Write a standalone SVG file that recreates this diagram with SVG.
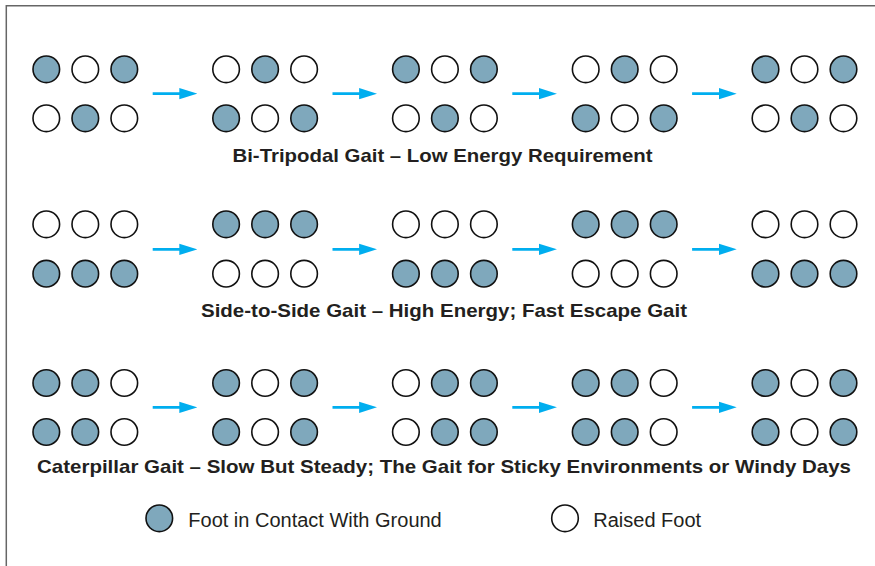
<svg xmlns="http://www.w3.org/2000/svg" width="875" height="566" viewBox="0 0 875 566">
  <defs>
    <style>
      .f { fill: #7fa8bc; stroke: #111; stroke-width: 1.6; }
      .o { fill: #fff; stroke: #111; stroke-width: 1.6; }
      .title { font-family: "Liberation Sans", Arial, sans-serif; font-weight: bold; font-size: 19px; fill: #231f20; text-anchor: middle; }
      .leg { font-family: "Liberation Sans", Arial, sans-serif; font-size: 20px; fill: #231f20; }
      .arr { stroke: #00aeef; stroke-width: 2.7; fill: none; marker-end: url(#ah); }
    </style>
    <marker id="ah" markerUnits="userSpaceOnUse" markerWidth="18" markerHeight="12" viewBox="0 0 17 10.7" refX="6.3" refY="5.35" orient="auto">
      <path d="M0,0 L17,5.35 L0,10.7 z" fill="#00aeef"/>
    </marker>
  </defs>
  <rect width="875" height="566" fill="#fff"/>
  <path d="M6.3,566 L6.3,5.7 L875,5.7" fill="none" stroke="#666" stroke-width="1.5"/>

  <!-- Row 1: Bi-Tripodal -->
  <g id="bt1" transform="translate(46.3,0)">
    <circle class="f" cx="0" cy="69.3" r="13.3"/><circle class="o" cx="39" cy="69.3" r="13.3"/><circle class="f" cx="78" cy="69.3" r="13.3"/>
    <circle class="o" cx="0" cy="118.3" r="13.3"/><circle class="f" cx="39" cy="118.3" r="13.3"/><circle class="o" cx="78" cy="118.3" r="13.3"/>
  </g>
  <g id="bt2" transform="translate(226.1,0)">
    <circle class="o" cx="0" cy="69.3" r="13.3"/><circle class="f" cx="39" cy="69.3" r="13.3"/><circle class="o" cx="78" cy="69.3" r="13.3"/>
    <circle class="f" cx="0" cy="118.3" r="13.3"/><circle class="o" cx="39" cy="118.3" r="13.3"/><circle class="f" cx="78" cy="118.3" r="13.3"/>
  </g>
  <g id="bt3" transform="translate(405.9,0)">
    <circle class="f" cx="0" cy="69.3" r="13.3"/><circle class="o" cx="39" cy="69.3" r="13.3"/><circle class="f" cx="78" cy="69.3" r="13.3"/>
    <circle class="o" cx="0" cy="118.3" r="13.3"/><circle class="f" cx="39" cy="118.3" r="13.3"/><circle class="o" cx="78" cy="118.3" r="13.3"/>
  </g>
  <g id="bt4" transform="translate(585.7,0)">
    <circle class="o" cx="0" cy="69.3" r="13.3"/><circle class="f" cx="39" cy="69.3" r="13.3"/><circle class="o" cx="78" cy="69.3" r="13.3"/>
    <circle class="f" cx="0" cy="118.3" r="13.3"/><circle class="o" cx="39" cy="118.3" r="13.3"/><circle class="f" cx="78" cy="118.3" r="13.3"/>
  </g>
  <g id="bt5" transform="translate(765.5,0)">
    <circle class="f" cx="0" cy="69.3" r="13.3"/><circle class="o" cx="39" cy="69.3" r="13.3"/><circle class="f" cx="78" cy="69.3" r="13.3"/>
    <circle class="o" cx="0" cy="118.3" r="13.3"/><circle class="f" cx="39" cy="118.3" r="13.3"/><circle class="o" cx="78" cy="118.3" r="13.3"/>
  </g>
  <text class="title" x="442.5" y="162.3" textLength="420" lengthAdjust="spacingAndGlyphs">Bi-Tripodal Gait – Low Energy Requirement</text>

  <!-- Row 2: Side-to-Side -->
  <g id="ss1" transform="translate(46.3,0)">
    <circle class="o" cx="0" cy="224.3" r="13.3"/><circle class="o" cx="39" cy="224.3" r="13.3"/><circle class="o" cx="78" cy="224.3" r="13.3"/>
    <circle class="f" cx="0" cy="273.7" r="13.3"/><circle class="f" cx="39" cy="273.7" r="13.3"/><circle class="f" cx="78" cy="273.7" r="13.3"/>
  </g>
  <g id="ss2" transform="translate(226.1,0)">
    <circle class="f" cx="0" cy="224.3" r="13.3"/><circle class="f" cx="39" cy="224.3" r="13.3"/><circle class="f" cx="78" cy="224.3" r="13.3"/>
    <circle class="o" cx="0" cy="273.7" r="13.3"/><circle class="o" cx="39" cy="273.7" r="13.3"/><circle class="o" cx="78" cy="273.7" r="13.3"/>
  </g>
  <g id="ss3" transform="translate(405.9,0)">
    <circle class="o" cx="0" cy="224.3" r="13.3"/><circle class="o" cx="39" cy="224.3" r="13.3"/><circle class="o" cx="78" cy="224.3" r="13.3"/>
    <circle class="f" cx="0" cy="273.7" r="13.3"/><circle class="f" cx="39" cy="273.7" r="13.3"/><circle class="f" cx="78" cy="273.7" r="13.3"/>
  </g>
  <g id="ss4" transform="translate(585.7,0)">
    <circle class="f" cx="0" cy="224.3" r="13.3"/><circle class="f" cx="39" cy="224.3" r="13.3"/><circle class="f" cx="78" cy="224.3" r="13.3"/>
    <circle class="o" cx="0" cy="273.7" r="13.3"/><circle class="o" cx="39" cy="273.7" r="13.3"/><circle class="o" cx="78" cy="273.7" r="13.3"/>
  </g>
  <g id="ss5" transform="translate(765.5,0)">
    <circle class="o" cx="0" cy="224.3" r="13.3"/><circle class="o" cx="39" cy="224.3" r="13.3"/><circle class="o" cx="78" cy="224.3" r="13.3"/>
    <circle class="f" cx="0" cy="273.7" r="13.3"/><circle class="f" cx="39" cy="273.7" r="13.3"/><circle class="f" cx="78" cy="273.7" r="13.3"/>
  </g>
  <text class="title" x="444" y="317" textLength="486" lengthAdjust="spacingAndGlyphs">Side-to-Side Gait – High Energy; Fast Escape Gait</text>

  <!-- Row 3: Caterpillar -->
  <g id="cp1" transform="translate(46.3,0)">
    <circle class="f" cx="0" cy="383" r="13.3"/><circle class="f" cx="39" cy="383" r="13.3"/><circle class="o" cx="78" cy="383" r="13.3"/>
    <circle class="f" cx="0" cy="432" r="13.3"/><circle class="f" cx="39" cy="432" r="13.3"/><circle class="o" cx="78" cy="432" r="13.3"/>
  </g>
  <g id="cp2" transform="translate(226.1,0)">
    <circle class="f" cx="0" cy="383" r="13.3"/><circle class="o" cx="39" cy="383" r="13.3"/><circle class="f" cx="78" cy="383" r="13.3"/>
    <circle class="f" cx="0" cy="432" r="13.3"/><circle class="o" cx="39" cy="432" r="13.3"/><circle class="f" cx="78" cy="432" r="13.3"/>
  </g>
  <g id="cp3" transform="translate(405.9,0)">
    <circle class="o" cx="0" cy="383" r="13.3"/><circle class="f" cx="39" cy="383" r="13.3"/><circle class="f" cx="78" cy="383" r="13.3"/>
    <circle class="o" cx="0" cy="432" r="13.3"/><circle class="f" cx="39" cy="432" r="13.3"/><circle class="f" cx="78" cy="432" r="13.3"/>
  </g>
  <g id="cp4" transform="translate(585.7,0)">
    <circle class="f" cx="0" cy="383" r="13.3"/><circle class="f" cx="39" cy="383" r="13.3"/><circle class="o" cx="78" cy="383" r="13.3"/>
    <circle class="f" cx="0" cy="432" r="13.3"/><circle class="f" cx="39" cy="432" r="13.3"/><circle class="o" cx="78" cy="432" r="13.3"/>
  </g>
  <g id="cp5" transform="translate(765.5,0)">
    <circle class="f" cx="0" cy="383" r="13.3"/><circle class="o" cx="39" cy="383" r="13.3"/><circle class="f" cx="78" cy="383" r="13.3"/>
    <circle class="f" cx="0" cy="432" r="13.3"/><circle class="o" cx="39" cy="432" r="13.3"/><circle class="f" cx="78" cy="432" r="13.3"/>
  </g>
  <text class="title" x="444" y="473.3" textLength="814" lengthAdjust="spacingAndGlyphs">Caterpillar Gait – Slow But Steady; The Gait for Sticky Environments or Windy Days</text>

  <!-- Connectors -->
  <g id="connectors">
    <line class="arr" x1="152.7" y1="93.7" x2="186" y2="93.7"/>
    <line class="arr" x1="332.5" y1="93.7" x2="365.8" y2="93.7"/>
    <line class="arr" x1="512.3" y1="93.7" x2="545.6" y2="93.7"/>
    <line class="arr" x1="692.1" y1="93.7" x2="725.4" y2="93.7"/>
    <line class="arr" x1="152.7" y1="249.3" x2="186" y2="249.3"/>
    <line class="arr" x1="332.5" y1="249.3" x2="365.8" y2="249.3"/>
    <line class="arr" x1="512.3" y1="249.3" x2="545.6" y2="249.3"/>
    <line class="arr" x1="692.1" y1="249.3" x2="725.4" y2="249.3"/>
    <line class="arr" x1="152.7" y1="407.3" x2="186" y2="407.3"/>
    <line class="arr" x1="332.5" y1="407.3" x2="365.8" y2="407.3"/>
    <line class="arr" x1="512.3" y1="407.3" x2="545.6" y2="407.3"/>
    <line class="arr" x1="692.1" y1="407.3" x2="725.4" y2="407.3"/>
  </g>

  <!-- Legend -->
  <g id="legend-contact">
    <circle class="f" cx="159.3" cy="518.3" r="13.3"/>
    <text class="leg" x="188.3" y="526.7">Foot in Contact With Ground</text>
  </g>
  <g id="legend-raised">
    <circle class="o" cx="565" cy="518.3" r="13.3"/>
    <text class="leg" x="593.3" y="526.7">Raised Foot</text>
  </g>
</svg>
